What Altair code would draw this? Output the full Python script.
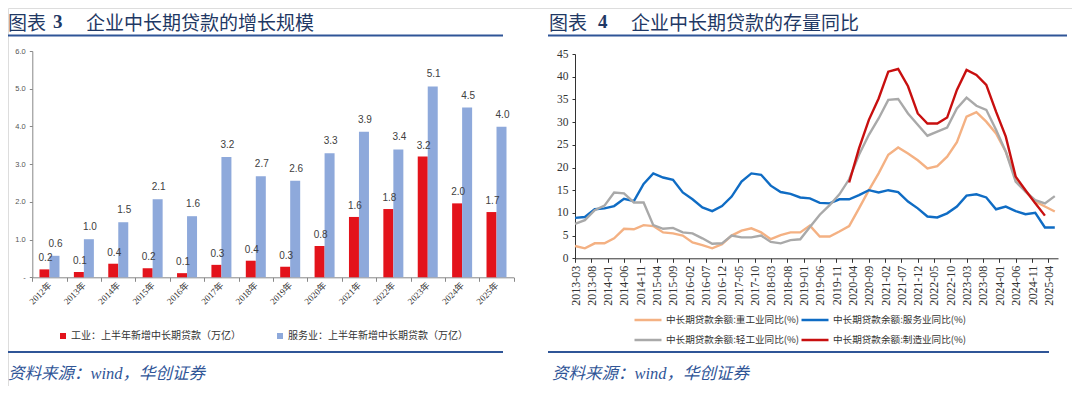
import altair as alt
import pandas as pd

# ---------------- left panel data ----------------
years = ["2012年", "2013年", "2014年", "2015年", "2016年", "2017年", "2018年",
         "2019年", "2020年", "2021年", "2022年", "2023年", "2024年", "2025年"]
industry = [0.21, 0.14, 0.36, 0.24, 0.11, 0.33, 0.44, 0.28, 0.83, 1.60, 1.81, 3.20, 1.96, 1.73]
services = [0.57, 1.01, 1.46, 2.07, 1.62, 3.19, 2.68, 2.56, 3.29, 3.86, 3.39, 5.06, 4.50, 3.99]
bar_names = ["工业：上半年新增中长期贷款（万亿）", "服务业：上半年新增中长期贷款（万亿）"]
bar_colors = ["#E3131B", "#8EA9DB"]
left_ticks = [0, 1, 2, 3, 4, 5, 6]

# ---------------- right panel data ----------------
quarters = pd.date_range("2013-03-01", periods=50, freq="3MS").strftime("%Y-%m-%d").tolist()
heavy = [2.7, 2.2, 3.3, 3.3, 4.4, 6.5, 6.4, 7.3, 7.1, 5.7, 5.5, 5.0,
         3.5, 2.9, 2.2, 3.1, 5.0, 6.1, 6.6, 5.7, 4.2, 5.1, 5.7, 5.7,
         7.2, 4.8, 4.8, 5.9, 7.1, 11.0, 15.0, 18.7, 22.8, 24.4, 23.1, 21.6,
         19.8, 20.3, 22.4, 25.6, 31.2, 32.2, 30.1, 27.5, 23.5, 17.6, 14.7, 12.5,
         11.4, 10.3]
service_yoy = [8.9, 9.1, 10.8, 11.0, 11.5, 13.1, 12.6, 16.4, 18.7, 17.8, 17.3, 14.5,
               13.0, 11.2, 10.4, 11.5, 13.6, 16.9, 18.7, 18.4, 16.0, 14.6, 14.2, 13.4,
               13.2, 12.2, 12.1, 13.0, 13.0, 13.9, 15.0, 14.5, 15.0, 14.6, 12.5, 11.0,
               9.2, 9.0, 9.9, 11.4, 13.8, 14.1, 13.4, 10.8, 11.4, 10.4, 9.7, 10.0,
               6.8, 6.8]
light = [7.6, 8.4, 10.6, 11.6, 14.5, 14.3, 12.3, 12.3, 7.3, 6.5, 6.7, 5.7,
         5.5, 4.4, 3.2, 3.3, 5.0, 4.6, 4.6, 5.0, 3.6, 3.3, 4.0, 4.2,
         6.9, 9.6, 11.7, 14.1, 17.4, 22.8, 27.2, 30.8, 34.9, 35.1, 31.9, 29.4,
         27.0, 27.9, 28.8, 33.0, 35.4, 33.6, 32.7, 28.3, 23.5, 16.9, 14.7, 12.8,
         12.1, 13.7]
manuf_dates = quarters[28:49]
manuf = [16.7, 24.2, 30.5, 35.2, 41.1, 41.7, 37.9, 31.9, 29.7, 29.7, 31.0, 37.1,
         41.5, 40.4, 38.2, 32.3, 26.8, 18.0, 15.0, 12.1, 9.4]
line_names = ["中长期贷款余额:重工业同比(%)", "中长期贷款余额:服务业同比(%)",
              "中长期贷款余额:轻工业同比(%)", "中长期贷款余额:制造业同比(%)"]
line_colors = ["#F4B183", "#0F6CC4", "#A9A9A9", "#C80F0F"]
right_ticks = list(range(0, 50, 5))
tick_dates = pd.date_range("2013-03-01", "2025-04-01", freq="5MS")

# ---------------- texts ----------------
title_left = ["图表", "3", "企业中长期贷款的增长规模"]
title_right = ["图表", "4", "企业中长期贷款的存量同比"]
source_text = "资料来源：wind，华创证券"

CJK = "Noto Sans CJK SC"
SERIF = "Liberation Serif, Noto Sans CJK SC"
SANS = "Liberation Sans, Noto Sans CJK SC"
H = 378

# ---------------- left panel ----------------
bar_df = pd.DataFrame({"year": years, "ind": industry, "svc": services,
                       "s_ind": bar_names[0], "s_svc": bar_names[1]})

x_axis_left = alt.Axis(orient="bottom", offset=-(H - 269.3), tickBand="extent", labelAngle=315,
                       labelAlign="right", labelBaseline="middle", labelFont=SERIF, labelFontSize=9,
                       labelColor="#333333", tickSize=4, tickColor="#888888", domainColor="#888888",
                       labelPadding=2, labelOverlap=False, grid=False, title=None)
y_axis_left = alt.Axis(orient="left", offset=-24.3, values=left_ticks,
                       labelExpr="datum.value == 0 ? '-' : format(datum.value, '.1f')",
                       labelFont=SANS, labelFontSize=7.5, labelColor="#555555", tickSize=3,
                       tickColor="#888888", domainColor="#888888", labelPadding=4, grid=False, title=None)
xs_left = alt.Scale(type="band", domain=years, range=[24.3, 505.7], paddingInner=0, paddingOuter=0)
ys_left = alt.Scale(domain=[0, 6], range=[269.3, 43])
cs_left = alt.Scale(domain=bar_names, range=bar_colors)
legend_left = alt.Legend(orient="none", legendX=50, legendY=323, direction="horizontal", title=None,
                         symbolType="square", symbolSize=36, symbolStrokeWidth=0, labelFont=CJK,
                         labelFontSize=10, labelColor="#333333", labelLimit=400, columnPadding=34,
                         labelOffset=3)

base_left = alt.Chart(bar_df)
red_bar = base_left.mark_bar(width=10, xOffset=-5).encode(
    x=alt.X("year:N", scale=xs_left, axis=x_axis_left, sort=years),
    y=alt.Y("ind:Q", scale=ys_left, axis=y_axis_left),
    color=alt.Color("s_ind:N", scale=cs_left, legend=legend_left),
)
blue_bar = base_left.mark_bar(width=10, xOffset=5).encode(
    x=alt.X("year:N", scale=xs_left, axis=x_axis_left, sort=years),
    y=alt.Y("svc:Q", scale=ys_left, axis=y_axis_left),
    color=alt.Color("s_svc:N", scale=cs_left, legend=legend_left),
)
red_txt = base_left.mark_text(xOffset=-4, dy=-8, baseline="alphabetic", font=SANS, fontSize=10,
                              color="#404040").encode(
    x=alt.X("year:N", scale=xs_left, axis=x_axis_left, sort=years),
    y=alt.Y("ind:Q", scale=ys_left, axis=y_axis_left),
    text=alt.Text("ind:Q", format=".1f"),
)
blue_txt = base_left.mark_text(xOffset=6, dy=-9, baseline="alphabetic", font=SANS, fontSize=10,
                               color="#404040").encode(
    x=alt.X("year:N", scale=xs_left, axis=x_axis_left, sort=years),
    y=alt.Y("svc:Q", scale=ys_left, axis=y_axis_left),
    text=alt.Text("svc:Q", format=".1f"),
)
left_panel = alt.layer(red_bar, blue_bar, red_txt, blue_txt)

# ---------------- right panel ----------------
frames = []
for name, vals, dates in [(line_names[0], heavy, quarters), (line_names[1], service_yoy, quarters),
                          (line_names[2], light, quarters), (line_names[3], manuf, manuf_dates)]:
    frames.append(pd.DataFrame({"date": dates, "value": vals, "series": name}))
line_df = pd.concat(frames, ignore_index=True)

x_axis_right = alt.Axis(orient="bottom", offset=-(H - 250.3),
                        values=[alt.DateTime(year=int(d.year), month=int(d.month), date=1, utc=True) for d in tick_dates],
                        format="%Y-%m", labelAngle=270, labelAlign="right", labelBaseline="middle",
                        labelFont=SERIF, labelFontSize=12, labelColor="#333333", tickSize=4,
                        tickColor="#333333", domainColor="#333333", labelPadding=3,
                        labelOverlap=False, labelFlush=False, labelBound=False, grid=False, title=None)
y_axis_right = alt.Axis(orient="left", offset=-567, values=right_ticks, labelFont=SERIF, labelFontSize=11.5,
                        labelColor="#333333", tickSize=3, tickColor="#333333", domainColor="#333333",
                        labelPadding=4, grid=False, title=None)
legend_right = alt.Legend(orient="none", legendX=625, legendY=297, direction="horizontal", columns=2,
                          title=None, symbolType="stroke", symbolSize=729, symbolStrokeWidth=2.5,
                          labelFont=CJK, labelFontSize=9.6, labelColor="#333333", labelLimit=400,
                          columnPadding=-4, rowPadding=-7, labelOffset=3)

right_panel = alt.Chart(line_df).mark_line(strokeWidth=2.4).encode(
    x=alt.X("date:T", scale=alt.Scale(type="utc",
                                      domain=[alt.DateTime(year=2013, month=3, date=1, utc=True),
                                              alt.DateTime(year=2025, month=7, date=1, utc=True)],
                                      range=[567, 1050]), axis=x_axis_right),
    y=alt.Y("value:Q", scale=alt.Scale(domain=[0, 45], range=[250.3, 46]), axis=y_axis_right),
    color=alt.Color("series:N", scale=alt.Scale(domain=line_names, range=line_colors), legend=legend_right),
    detail="series:N",
)

# ---------------- decorations ----------------
one = pd.DataFrame({"k": [0]})


def txt(s, x, y, size, color, font, weight="normal", style="normal", baseline="middle"):
    return alt.Chart(pd.DataFrame({"t": [s]})).mark_text(
        align="left", baseline=baseline, font=font, fontSize=size, fontWeight=weight,
        fontStyle=style, color=color).encode(x=alt.value(x), y=alt.value(y), text="t:N")


def rule(x1, x2, y, color, w):
    return alt.Chart(one).mark_rule(color=color, strokeWidth=w).encode(
        x=alt.value(x1), x2=alt.value(x2), y=alt.value(y))


NAVY = "#1F3864"
LINE = "#2F5597"
TB = 22.2  # title baseline
decor = [
    txt(title_left[0], 0, TB, 19, NAVY, CJK, baseline="alphabetic"),
    txt(title_left[1], 45, TB - 2.3, 19, NAVY, "Liberation Serif", weight="bold", baseline="alphabetic"),
    txt(title_left[2], 78, TB, 19, NAVY, CJK, baseline="alphabetic"),
    txt(title_right[0], 541, TB, 19, NAVY, CJK, baseline="alphabetic"),
    txt(title_right[1], 590, TB - 2.3, 19, NAVY, "Liberation Serif", weight="bold", baseline="alphabetic"),
    txt(title_right[2], 623, TB, 19, NAVY, CJK, baseline="alphabetic"),
    rule(0, 495, 27.5, LINE, 2.2),
    rule(540, 1059, 27.5, LINE, 2.2),
    rule(0, 495, 344, LINE, 2),
    rule(540, 1041, 344, LINE, 2),
    txt(source_text, 0, 366, 16.5, LINE, SERIF, style="italic"),
    txt(source_text, 544, 366, 16.5, LINE, SERIF, style="italic"),
]

chart = alt.layer(left_panel, right_panel, *decor).resolve_scale(
    x="independent", y="independent", color="independent"
).properties(
    width=1064, height=H, autosize=alt.AutoSizeParams(type="none"), padding=0
).configure_view(stroke=None).configure(background="white")

chart.save("out.html", embed_options={"renderer": "svg", "actions": False})
